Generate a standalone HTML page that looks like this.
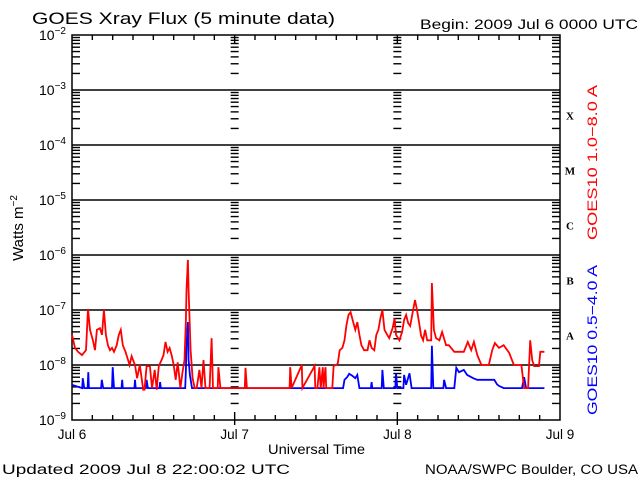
<!DOCTYPE html>
<html><head><meta charset="utf-8"><style>
body{margin:0;background:#fff;}
svg{display:block;font-family:"Liberation Sans",sans-serif;}
</style></head><body>
<svg id="c" width="640" height="480" viewBox="0 0 640 480">
<text x="32" y="24" font-size="17" textLength="303" lengthAdjust="spacingAndGlyphs">GOES Xray Flux (5 minute data)</text>
<text x="420" y="29" font-size="13.5" textLength="218" lengthAdjust="spacingAndGlyphs">Begin:  2009 Jul 6 0000 UTC</text>
<text x="2" y="474" font-size="13.5" textLength="288" lengthAdjust="spacingAndGlyphs">Updated 2009 Jul  8 22:00:02 UTC</text>
<text x="425" y="474" font-size="13.5" textLength="213" lengthAdjust="spacingAndGlyphs">NOAA/SWPC Boulder, CO USA</text>
<text x="268" y="454" font-size="13.5" textLength="97" lengthAdjust="spacingAndGlyphs">Universal Time</text>
<text transform="translate(23,228) rotate(-90)" font-size="15" text-anchor="middle">Watts m<tspan dy="-6" font-size="10">−2</tspan></text>
<text transform="translate(597,240) rotate(-90)" font-size="14" fill="#ff0000" textLength="155" lengthAdjust="spacingAndGlyphs">GOES10 1.0−8.0 A</text>
<text transform="translate(597,415) rotate(-90)" font-size="14" fill="#0000ff" textLength="150" lengthAdjust="spacingAndGlyphs">GOES10 0.5−4.0 A</text>
<g id="axes"></g>
<g id="series"></g>
</svg>
<script>
const decades=[-2,-3,-4,-5,-6,-7,-8,-9];
const classLabels=["X","M","C","B","A"];
const dayLabels=["Jul 6","Jul 7","Jul 8","Jul 9"];
const redT=[0,0.44,0.88,1.47,2.06,2.36,2.65,3.09,3.39,3.68,4.12,4.42,4.71,5.0,5.3,5.6,5.9,6.2,6.6,6.9,7.2,7.5,7.9,8.5,8.8,9.3,9.6,10.0,10.5,10.7,11.0,11.5,11.8,12.2,12.5,12.8,13.2,13.5,13.8,14.1,14.4,14.7,15.0,15.3,15.6,16.0,16.3,16.6,16.8,16.9,17.1,17.2,17.5,17.8,18.1,18.4,18.8,19.1,19.4,19.7,20.3,20.6,20.8,21.5,21.6,21.9,25.5,25.6,25.8,32.1,32.2,32.4,33.9,34.0,35.8,35.9,36.2,36.5,36.7,37.0,37.1,37.4,37.5,38.4,38.6,39.2,39.5,39.9,40.2,40.5,40.8,41.1,41.4,41.8,42.1,42.4,42.7,43.1,43.6,43.9,44.2,44.6,44.9,45.2,45.5,45.8,46.1,46.5,46.8,47.3,47.6,47.8,48.3,48.7,49.0,49.3,49.6,49.9,50.2,50.6,50.9,51.2,51.5,51.8,52.1,52.4,53.0,53.1,53.4,53.7,54.2,54.6,55.2,55.6,56.4,57.8,58.4,58.9,59.3,59.8,60.4,61.5,62.0,62.4,63.0,63.7,64.5,65.2,66.3,66.7,67.3,67.6,67.9,68.2,68.9,69.1,69.7];
const redL=[-7.45,-7.69,-7.76,-7.82,-7.73,-6.98,-7.36,-7.55,-7.73,-7.36,-7.33,-7.45,-7.0,-7.45,-7.64,-7.73,-7.69,-7.76,-7.64,-7.45,-7.36,-7.64,-7.76,-8.0,-7.84,-8.0,-8.24,-8.0,-8.45,-8.45,-8.02,-8.02,-8.42,-8.09,-8.45,-8.02,-7.91,-7.82,-7.58,-7.76,-7.69,-7.82,-8.0,-8.27,-7.95,-8.42,-8.13,-7.91,-7.18,-6.64,-6.09,-6.64,-7.73,-8.24,-8.42,-8.42,-8.09,-8.42,-7.91,-8.42,-8.42,-7.51,-8.42,-8.42,-8.04,-8.42,-8.42,-8.05,-8.42,-8.42,-8.04,-8.42,-8.0,-8.42,-8.02,-8.42,-8.42,-8.04,-8.42,-8.04,-8.42,-8.04,-8.42,-8.42,-8.02,-7.98,-7.73,-7.69,-7.55,-7.27,-7.09,-7.04,-7.18,-7.36,-7.22,-7.45,-7.64,-7.73,-7.73,-7.55,-7.69,-7.73,-7.45,-7.36,-7.15,-7.0,-7.36,-7.45,-7.51,-7.33,-7.15,-7.45,-7.55,-7.4,-7.18,-7.09,-7.24,-7.29,-7.09,-6.82,-7.0,-7.22,-7.47,-7.55,-7.36,-7.55,-7.55,-6.51,-7.36,-7.51,-7.55,-7.4,-7.64,-7.64,-7.76,-7.76,-7.58,-7.73,-7.58,-7.82,-8.0,-8.0,-7.73,-7.6,-7.69,-7.64,-7.78,-8.0,-8.0,-8.42,-8.42,-7.55,-7.91,-8.02,-8.02,-7.76,-7.76];
const blueT=[0,1.5,1.6,1.8,2.3,2.4,2.5,4.3,4.4,4.6,5.9,6.0,6.2,7.3,7.4,7.5,9.2,9.3,9.4,10.9,11.0,11.2,12.9,13.0,13.1,16.7,16.8,16.9,17.1,17.2,17.4,17.7,40.0,40.2,40.6,40.9,41.4,41.8,42.1,42.4,44.1,44.2,44.3,45.7,45.8,46.0,47.7,47.8,48.0,48.9,49.0,49.3,49.8,50.1,53.0,53.1,53.3,54.8,54.9,55.2,56.4,56.7,57.1,57.8,58.3,59.2,59.8,62.3,62.7,63.0,63.7,66.4,66.7,67.0,69.7];
const blueL=[-8.36,-8.42,-8.24,-8.42,-8.42,-8.13,-8.42,-8.42,-8.27,-8.42,-8.42,-8.04,-8.42,-8.42,-8.27,-8.42,-8.42,-8.27,-8.42,-8.42,-8.27,-8.42,-8.42,-8.31,-8.42,-8.42,-8.09,-7.64,-7.22,-7.91,-8.18,-8.42,-8.42,-8.27,-8.22,-8.16,-8.2,-8.24,-8.18,-8.42,-8.42,-8.31,-8.42,-8.42,-8.09,-8.42,-8.42,-8.15,-8.42,-8.42,-8.18,-8.36,-8.15,-8.42,-8.42,-7.65,-8.42,-8.42,-8.27,-8.42,-8.42,-8.05,-8.13,-8.09,-8.18,-8.24,-8.27,-8.27,-8.35,-8.38,-8.42,-8.42,-8.22,-8.42,-8.42];

const X0=72,X1=560,Y0=35,Y1=420;
const xs=h=>X0+h*(X1-X0)/72;
const ys=L=>Y0+(-2-L)*(Y1-Y0)/7;
const NS="http://www.w3.org/2000/svg";
const ax=document.getElementById('axes');
function mk(tag,at,parent){const e=document.createElementNS(NS,tag);for(const k in at)e.setAttribute(k,at[k]);(parent||ax).appendChild(e);return e;}
function ln(x1,y1,x2,y2){const e=mk('line',{x1,y1,x2,y2,stroke:'#000','stroke-width':1.4});

return e;}
const fr=mk('rect',{x:X0,y:Y0,width:X1-X0,height:Y1-Y0,fill:'none',stroke:'#000','stroke-width':1.5});


decades.forEach((d,i)=>{
  const y=ys(d);
  if(i>0&&i<decades.length-1){const g=ln(X0,y,X1,y);
    }
  const t=mk('text',{x:X0-6,y:y+5,'font-size':14,'text-anchor':'end'});
  
  
  t.innerHTML='10<tspan dy="-6" font-size="10">'+(d===-2?'−2':'−'+(-d))+'</tspan>';
  if(i<decades.length-1){
    for(let m=2;m<=9;m++){
      const yy=ys(d-1+Math.log10(m));
      ln(X0,yy,X0+8,yy);ln(X1-8,yy,X1,yy);
      [xs(24),xs(48)].forEach(xx=>ln(xx-4,yy,xx+4,yy));
    }
  }
});
classLabels.forEach((c,i)=>{
  const t=mk('text',{x:570,y:ys(-3.5-i)+2,'font-size':11,'font-family':'Liberation Serif','font-weight':'bold','text-anchor':'middle'});
  
  
  t.textContent=c;
});
for(let h=3;h<72;h+=3){
  const x=xs(h);const big=h%24===0;
  ln(x,Y0,x,Y0+(big?8:5));ln(x,Y1,x,Y1-(big?8:5));
  if(big){ln(x,Y1,x,Y1+5);}
}
dayLabels.forEach((d,i)=>{
  const t=mk('text',{x:xs(i*24),y:439,'font-size':13.5,'text-anchor':'middle'});
  
  
  t.textContent=d;
});
const sg=document.getElementById('series');
function series(T,L,color,name){
  const pts=T.map((t,i)=>xs(t).toFixed(1)+','+ys(L[i]).toFixed(1)).join(' ');
  const p=mk('polyline',{points:pts,fill:'none',stroke:color,'stroke-width':1.8,'stroke-linejoin':'miter'},sg);
  
  
}
series(blueT,blueL,'#0000ff','short-channel-line');
series(redT,redL,'#ff0000','long-channel-line');
</script>
</body></html>
